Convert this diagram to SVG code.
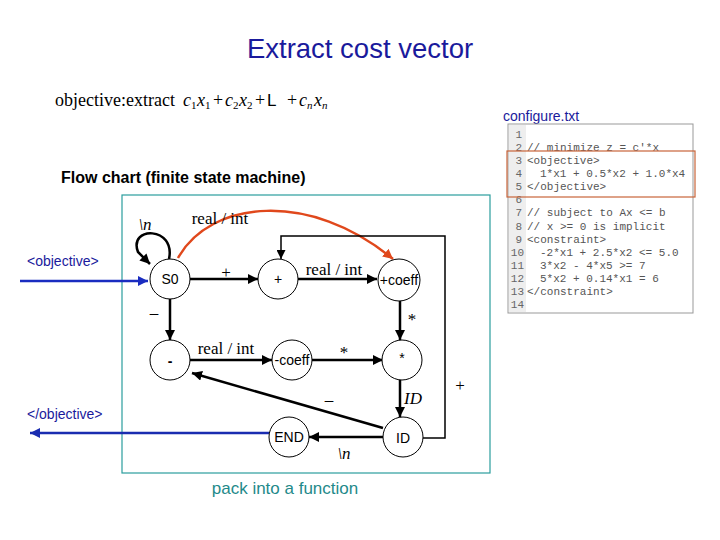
<svg xmlns="http://www.w3.org/2000/svg" width="720" height="540" viewBox="0 0 720 540">
<defs>
<style>
.sans{font-family:"Liberation Sans",Arial,sans-serif}
.serif{font-family:"Liberation Serif","Times New Roman",serif}
.mono{font-family:"Liberation Mono","Courier New",monospace;font-size:11px;fill:#555}
.ln{font-family:"Liberation Mono","Courier New",monospace;font-size:11px;fill:#666}
.node{fill:#fff;stroke:#000;stroke-width:1}
.nl{font-family:"Liberation Sans",Arial,sans-serif;font-size:14px;text-anchor:middle;fill:#000}
.edge{fill:none;stroke:#000;stroke-width:2.5}
.thin{fill:none;stroke:#000;stroke-width:1.5}
.el{font-family:"Liberation Serif","Times New Roman",serif;font-size:17px;fill:#000;text-anchor:middle}
.blue{fill:#1a1a9c}
</style>
<marker id="ah" viewBox="0 0 10 10" refX="10" refY="5" markerWidth="4" markerHeight="4" orient="auto" markerUnits="strokeWidth"><path d="M0,0 L10,5 L0,10 z" fill="#000"/></marker>
<marker id="ahThin" viewBox="0 0 10 10" refX="10" refY="5" markerWidth="6" markerHeight="6" orient="auto" markerUnits="strokeWidth"><path d="M0,0 L10,5 L0,10 z" fill="#000"/></marker>
<marker id="ahRed" viewBox="0 0 10 10" refX="10" refY="5" markerWidth="4" markerHeight="4" orient="auto" markerUnits="strokeWidth"><path d="M0,0 L10,5 L0,10 z" fill="#e0481c"/></marker>
<marker id="ahBlue" viewBox="0 0 10 10" refX="10" refY="5" markerWidth="4" markerHeight="4" orient="auto" markerUnits="strokeWidth"><path d="M0,0 L10,5 L0,10 z" fill="#1a2cc0"/></marker>
<marker id="ahNavy" viewBox="0 0 10 10" refX="10" refY="5" markerWidth="4" markerHeight="4" orient="auto" markerUnits="strokeWidth"><path d="M0,0 L10,5 L0,10 z" fill="#1a2cb0"/></marker>
</defs>
<rect width="720" height="540" fill="#fff"/>

<!-- titles -->
<text x="360" y="58" class="sans blue" font-size="27.5" text-anchor="middle">Extract cost vector</text>
<g id="formula" class="serif" font-size="18">
<text x="55" y="106">objective:extract</text>
<text x="183" y="106" font-style="italic">c</text><text x="191" y="109" font-size="11">1</text>
<text x="197" y="106" font-style="italic">x</text><text x="205" y="109" font-size="11">1</text>
<text x="213" y="106">+</text>
<text x="225" y="106" font-style="italic">c</text><text x="233" y="109" font-size="11">2</text>
<text x="239" y="106" font-style="italic">x</text><text x="247" y="109" font-size="11">2</text>
<text x="255" y="106">+</text>
<text x="267" y="106" class="sans" font-size="17">L</text>
<text x="287" y="106">+</text>
<text x="299" y="106" font-style="italic">c</text><text x="307" y="109" font-size="11" font-style="italic">n</text>
<text x="314" y="106" font-style="italic">x</text><text x="322" y="109" font-size="11" font-style="italic">n</text>
</g>
<text x="503" y="121" class="sans blue" font-size="14">configure.txt</text>
<text x="61" y="183" class="sans" font-size="16" font-weight="bold">Flow chart (finite state machine)</text>
<text x="285" y="494" class="sans" font-size="17" fill="#1f8a8a" text-anchor="middle">pack into a function</text>

<!-- code box -->
<g id="code">
<rect x="508" y="124" width="185" height="189" fill="#fff" stroke="#999" stroke-width="1"/>
<rect x="509" y="125" width="17" height="187" fill="#eeeeee"/>
<g class="ln" text-anchor="end">
<text x="522" y="138">1</text><text x="522" y="151">2</text><text x="522" y="164">3</text><text x="522" y="177">4</text><text x="522" y="190">5</text><text x="522" y="203">6</text><text x="522" y="216">7</text><text x="522" y="230">8</text><text x="522" y="243">9</text><text x="524" y="256">10</text><text x="524" y="269">11</text><text x="524" y="282">12</text><text x="524" y="295">13</text><text x="524" y="308">14</text>
</g>
<g class="mono">
<text x="527" y="151">// minimize z = c'*x</text>
<text x="527" y="164">&lt;objective&gt;</text>
<text x="540" y="177">1*x1 + 0.5*x2 + 1.0*x4</text>
<text x="527" y="190">&lt;/objective&gt;</text>
<text x="527" y="216">// subject to Ax &lt;= b</text>
<text x="527" y="230">// x &gt;= 0 is implicit</text>
<text x="527" y="243">&lt;constraint&gt;</text>
<text x="540" y="256">-2*x1 + 2.5*x2 &lt;= 5.0</text>
<text x="540" y="269">3*x2 - 4*x5 &gt;= 7</text>
<text x="540" y="282">5*x2 + 0.14*x1 = 6</text>
<text x="527" y="295">&lt;/constraint&gt;</text>
</g>
<rect x="507" y="151" width="188" height="46" fill="none" stroke="#c8643a" stroke-width="1.2"/>
</g>

<!-- frame -->
<rect x="122" y="195" width="368" height="278" fill="none" stroke="#2a9d9d" stroke-width="1.2"/>

<!-- connectors -->
<g id="connectors">
<path class="edge" d="M169,259 C176,226 128,226 138,252 L150,264" marker-end="url(#ah)"/>
<path d="M178,258 C210,200 310,190 393,259" fill="none" stroke="#e0481c" stroke-width="2.5" marker-end="url(#ahRed)"/>
<path class="edge" d="M190,279 L258,279" marker-end="url(#ah)"/>
<path class="edge" d="M298,279 L377,279" marker-end="url(#ah)"/>
<path class="thin" d="M423,438 L445,438 L445,236 L281,236 L281,259" marker-end="url(#ahThin)"/>
<path class="edge" d="M170,299 L170,340" marker-end="url(#ah)"/>
<path class="edge" d="M190,360 L272,360" marker-end="url(#ah)"/>
<path class="edge" d="M312,360 L383,360" marker-end="url(#ah)"/>
<path class="edge" d="M400,301 L400,340" marker-end="url(#ah)"/>
<path class="edge" d="M400,380 L400,417" marker-end="url(#ah)"/>
<path class="edge" d="M383,428 L192,373" marker-end="url(#ah)"/>
<path class="edge" d="M383,437 L309,437" marker-end="url(#ah)"/>
<path d="M20,281 L148,281" stroke="#1a2cc0" stroke-width="2.5" fill="none" marker-end="url(#ahBlue)"/>
<path d="M269,433 L30,433" stroke="#1a2cb0" stroke-width="2.5" fill="none" marker-end="url(#ahNavy)"/>
</g>

<!-- edge labels -->
<g id="labels">
<text x="145" y="230" class="el" font-style="italic" font-size="22">\n</text>
<text x="220" y="224" class="el">real / int</text>
<text x="226" y="278" class="el" font-size="24">+</text>
<text x="334" y="275" class="el">real / int</text>
<text x="154" y="318" class="el" font-size="20">–</text>
<text x="412" y="325" class="el" font-size="20">*</text>
<text x="226" y="354" class="el">real / int</text>
<text x="344" y="358" class="el" font-size="20">*</text>
<text x="460" y="391" class="el" font-size="24">+</text>
<text x="413" y="404" class="el" font-style="italic" font-size="22">ID</text>
<text x="329" y="405" class="el" font-size="20">–</text>
<text x="344" y="459" class="el" font-style="italic" font-size="22">\n</text>
<text x="27" y="266" class="sans blue" font-size="14">&lt;objective&gt;</text>
<text x="27" y="419" class="sans blue" font-size="14">&lt;/objective&gt;</text>
</g>

<!-- nodes -->
<g id="n-s0"><circle class="node" cx="170" cy="279" r="20"/><text class="nl" x="170" y="284">S0</text></g>
<g id="n-plus"><circle class="node" cx="278" cy="279" r="20"/><text class="nl" x="278" y="284">+</text></g>
<g id="n-pcoeff"><circle class="node" cx="399" cy="280" r="21"/><text class="nl" x="399" y="285">+coeff</text></g>
<g id="n-minus"><circle class="node" cx="170" cy="360" r="20"/><text class="nl" x="170" y="366" font-size="20" font-weight="bold">-</text></g>
<g id="n-mcoeff"><circle class="node" cx="292" cy="360" r="20"/><text class="nl" x="292" y="365">-coeff</text></g>
<g id="n-star"><circle class="node" cx="402" cy="360" r="20"/><text class="nl" x="402" y="363">*</text></g>
<g id="n-end"><circle class="node" cx="289" cy="437" r="20"/><text class="nl" x="289" y="442">END</text></g>
<g id="n-id"><circle class="node" cx="403" cy="437" r="20"/><text class="nl" x="403" y="443" font-size="16">ID</text></g>
</svg>
